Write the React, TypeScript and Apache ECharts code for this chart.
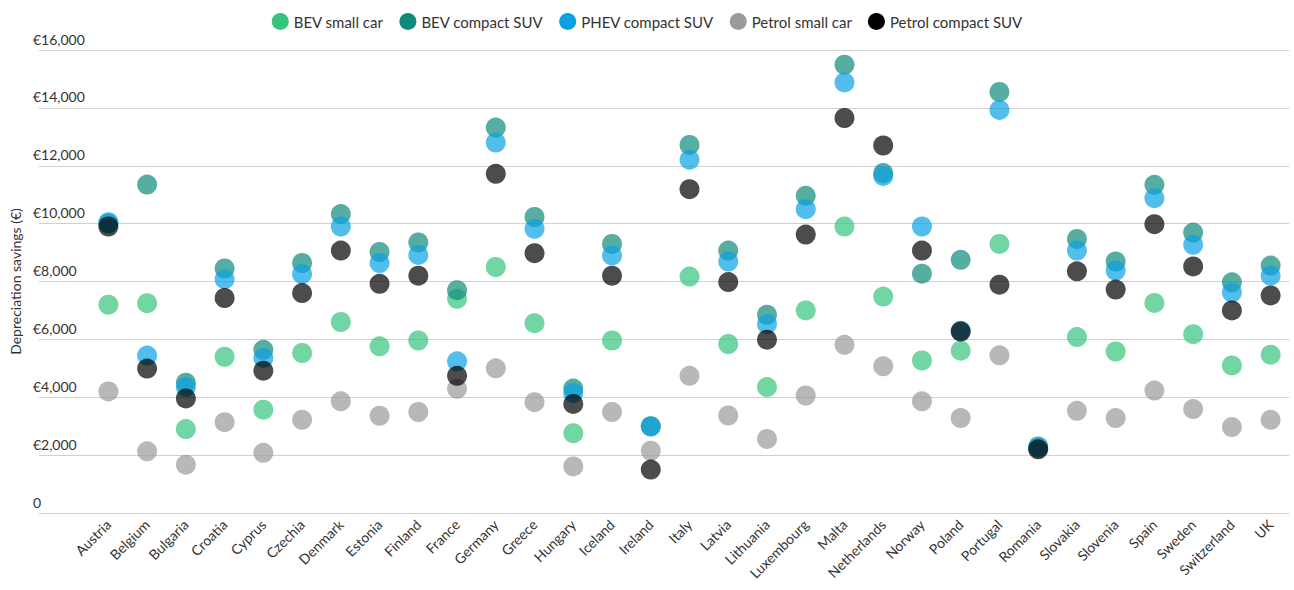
import React, { useEffect, useRef } from "react";
import * as echarts from "echarts";

const countries = ["Austria","Belgium","Bulgaria","Croatia","Cyprus","Czechia","Denmark","Estonia","Finland","France","Germany","Greece","Hungary","Iceland","Ireland","Italy","Latvia","Lithuania","Luxembourg","Malta","Netherlands","Norway","Poland","Portugal","Romania","Slovakia","Slovenia","Spain","Sweden","Switzerland","UK"];

const bevSmall = [7200,7250,2900,5400,3570,5530,6600,5760,5960,7400,8500,6560,2760,5960,null,8170,5840,4350,7000,9900,7480,5270,5610,9300,null,6080,5580,7260,6180,5100,5470];
const bevCompact = [10000,11350,4500,8450,5640,8640,10330,9020,9350,7700,13320,10230,4300,9300,3000,12720,9070,6850,10960,15490,11750,8270,8750,14550,2300,9470,8690,11340,9690,7970,8550];
const phevCompact = [10050,5440,4350,8080,5360,8260,9900,8640,8920,5240,12800,9820,4150,8900,2990,12210,8690,6530,10500,14880,11650,9900,6300,13930,2250,9070,8380,10880,9270,7620,8200];
const petrolSmall = [4200,2130,1670,3140,2080,3220,3860,3360,3490,4290,5000,3830,1610,3490,2150,4740,3370,2560,4060,5810,5070,3860,3280,5450,null,3530,3280,4230,3590,2970,3220];
const petrolCompact = [9900,4990,3960,7430,4920,7600,9070,7920,8200,4740,11720,8980,3770,8200,1500,11190,7980,5990,9620,13650,12700,9070,6270,7890,2200,8350,7720,9980,8520,7000,7520];

const seriesNames = ["BEV small car","BEV compact SUV","PHEV compact SUV","Petrol small car","Petrol compact SUV"];
const seriesData = [bevSmall, bevCompact, phevCompact, petrolSmall, petrolCompact];
const seriesColors = ["#35c47c","#0e8a7a","#0aa1e4","#9a9a9a","#000000"];

const FONT = "Lato";

export default function App() {
  const ref = useRef<HTMLDivElement>(null);
  useEffect(() => {
    if (!ref.current) return;
    const chart = echarts.init(ref.current, undefined, { renderer: "svg" });
    const top = 50;
    const bottom = 77;
    chart.setOption({
      animation: false,
      textStyle: { fontFamily: FONT },
      legend: {
        top: 8,
        left: "center",
        icon: "circle",
        itemWidth: 17,
        itemHeight: 17,
        itemGap: 16,
        textStyle: { fontFamily: FONT, fontSize: 15, color: "#333" },
        itemStyle: { opacity: 1 },
        data: seriesNames,
      },
      grid: [
        { left: 32, right: 5, top, bottom, containLabel: false },
        { left: 89, right: 4, top, bottom, containLabel: false },
      ],
      xAxis: [
        { gridIndex: 0, type: "value", show: false, min: 0, max: 1 },
        {
          gridIndex: 1,
          type: "category",
          data: countries,
          boundaryGap: true,
          axisLine: { show: false },
          axisTick: { show: false },
          axisLabel: {
            rotate: 45,
            interval: 0,
            margin: 9,
            fontFamily: FONT,
            fontSize: 14,
            color: "#333",
          },
        },
      ],
      yAxis: [
        {
          gridIndex: 0,
          type: "value",
          min: 0,
          max: 16000,
          interval: 2000,
          axisLine: { show: false },
          axisTick: { show: false },
          splitLine: { show: true, lineStyle: { color: "#d0d0d0", width: 1 } },
          axisLabel: {
            inside: true,
            margin: -6,
            align: "left",
            verticalAlign: "bottom",
            padding: [0, 0, 4, 0],
            fontFamily: FONT,
            fontSize: 14,
            color: "#333",
            formatter: (v: number) => (v === 0 ? "0" : "€" + v.toLocaleString("en-US")),
          },
          name: "Depreciation savings (€)",
          nameLocation: "middle",
          nameGap: 16,
          nameTextStyle: { fontFamily: FONT, fontSize: 14, color: "#333" },
        },
        {
          gridIndex: 1,
          type: "value",
          min: 0,
          max: 16000,
          interval: 2000,
          show: false,
          splitLine: { show: false },
        },
      ],
      series: seriesNames.map((name, i) => ({
        name,
        type: "scatter",
        xAxisIndex: 1,
        yAxisIndex: 1,
        symbol: "circle",
        symbolSize: 20,
        data: seriesData[i],
        itemStyle: { color: seriesColors[i], opacity: 0.7 },
        emphasis: { disabled: true },
      })),
    });
    return () => chart.dispose();
  }, []);
  return (
    <div
      ref={ref}
      style={{ position: "absolute", left: 0, top: 0, width: 1294, height: 590 }}
    />
  );
}
